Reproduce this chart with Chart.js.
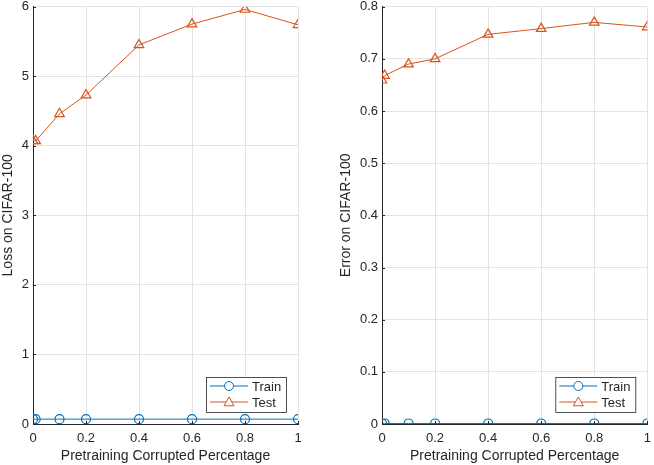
<!DOCTYPE html>
<html><head><meta charset="utf-8">
<script src="https://cdn.jsdelivr.net/npm/chart.js@4"></script>
<style>
html,body{margin:0;padding:0;background:#fff;}
#wrap{width:654px;height:465px;position:relative;}
.c{position:absolute;top:0;width:327px;height:465px;}
</style></head><body>
<div id="wrap">
<div class="c" style="left:0"><canvas id="c1"></canvas></div>
<div class="c" style="left:327px"><canvas id="c2"></canvas></div>
</div>
<script>
const corrupted = [0, 0.01, 0.1, 0.2, 0.4, 0.6, 0.8, 1];
const trainLoss = [0.07, 0.07, 0.07, 0.07, 0.07, 0.07, 0.07, 0.07];
const testLoss  = [4.07, 4.07, 4.46, 4.73, 5.45, 5.75, 5.96, 5.74];
const trainErr  = [0.001, 0.001, 0.001, 0.001, 0.001, 0.001, 0.001, 0.001];
const testErr   = [0.659, 0.668, 0.690, 0.700, 0.747, 0.758, 0.770, 0.761];
const xTitle = 'Pretraining Corrupted Percentage';
const yTitles = ['Loss on CIFAR-100', 'Error on CIFAR-100'];
const seriesNames = ['Train', 'Test'];

const BLUE = '#0072BD', ORANGE = '#D95319';
const FONT = "'Liberation Sans', Arial, sans-serif";
const TXT = '#262626';

const innerTicks = {
  id: 'innerTicks',
  afterDatasetsDraw(chart) {
    const ctx = chart.ctx, a = chart.chartArea;
    const xs = chart.scales.x, ys = chart.scales.y;
    ctx.save();
    ctx.strokeStyle = '#262626';
    ctx.lineWidth = 1;
    ctx.beginPath();
    ys.ticks.forEach(t => { const p = Math.round(ys.getPixelForValue(t.value)) + 0.5; ctx.moveTo(a.left, p); ctx.lineTo(a.left + 3, p); });
    xs.ticks.forEach(t => { const p = Math.round(xs.getPixelForValue(t.value)) + 0.5; ctx.moveTo(p, a.bottom); ctx.lineTo(p, a.bottom - 3); });
    ctx.stroke();
    ctx.restore();
  }
};

const legendPlugin = {
  id: 'inLegend',
  afterDraw(chart) {
    const ctx = chart.ctx, a = chart.chartArea;
    const w = 80, h = 35;
    const x0 = a.right - w - 12, y0 = a.bottom - h - 12;
    ctx.save();
    ctx.fillStyle = '#fff';
    ctx.fillRect(x0, y0, w, h);
    ctx.strokeStyle = '#262626';
    ctx.lineWidth = 0.8;
    ctx.strokeRect(x0 + 0.5, y0 + 0.5, w, h);
    chart.data.datasets.forEach((ds, i) => {
      const yy = y0 + 9 + i * 16;
      ctx.strokeStyle = ds.borderColor;
      ctx.lineWidth = 1;
      ctx.beginPath(); ctx.moveTo(x0 + 4, yy); ctx.lineTo(x0 + 42, yy); ctx.stroke();
      ctx.beginPath();
      if (ds.pointStyle === 'triangle') {
        const r = 5;
        ctx.moveTo(x0 + 23, yy - r); ctx.lineTo(x0 + 23 + r, yy + r * 0.75); ctx.lineTo(x0 + 23 - r, yy + r * 0.75); ctx.closePath();
      } else {
        ctx.arc(x0 + 23, yy, 4.5, 0, Math.PI * 2);
      }
      ctx.fillStyle = '#fff'; ctx.fill(); ctx.stroke();
      ctx.fillStyle = TXT;
      ctx.font = '13px ' + FONT;
      ctx.textBaseline = 'middle';
      ctx.fillText(ds.label, x0 + 46, yy + 1);
    });
    ctx.restore();
  }
};

function makeChart(id, train, test, yMax, yStep, yTitle, leftPad, yWidth, rightPad) {
  return new Chart(document.getElementById(id), {
    type: 'line',
    data: {
      datasets: [
        { label: seriesNames[0], data: corrupted.map((x, i) => ({x, y: train[i]})),
          borderColor: BLUE, backgroundColor: '#fff', borderWidth: 1,
          pointStyle: 'circle', pointRadius: 4.5, pointBorderWidth: 1.2, pointBorderColor: BLUE, pointBackgroundColor: 'rgba(255,255,255,0)' },
        { label: seriesNames[1], data: corrupted.map((x, i) => ({x, y: test[i]})),
          borderColor: ORANGE, backgroundColor: '#fff', borderWidth: 1,
          pointStyle: 'triangle', pointRadius: 5.5, pointBorderWidth: 1.2, pointBorderColor: ORANGE, pointBackgroundColor: 'rgba(255,255,255,0)' }
      ]
    },
    options: {
      responsive: true, maintainAspectRatio: false, animation: false,
      layout: { padding: { top: 6, right: rightPad, left: leftPad, bottom: 0 } },
      plugins: { legend: { display: false }, tooltip: { enabled: false } },
      scales: {
        x: {
          type: 'linear', min: 0, max: 1,
          ticks: { stepSize: 0.2, color: TXT, font: { family: FONT, size: 13 }, padding: 7, maxRotation: 0,
                   callback: v => Number(v.toFixed(1)).toString() },
          grid: { color: '#e3e3e3', drawTicks: false },
          border: { color: '#262626', width: 1 },
          title: { display: true, text: xTitle, color: TXT, font: { family: FONT, size: 14 }, padding: { top: 2, bottom: 0 } },
          afterFit: s => { s.height = 41; s.paddingLeft = 0; s.paddingRight = 0; }
        },
        y: {
          min: 0, max: yMax,
          ticks: { stepSize: yStep, color: TXT, font: { family: FONT, size: 13 }, padding: 4,
                   callback: v => Number(v.toFixed(1)).toString() },
          grid: { color: '#e3e3e3', drawTicks: false },
          border: { color: '#262626', width: 1 },
          title: { display: true, text: yTitle, color: TXT, font: { family: FONT, size: 14 }, padding: { top: 0, bottom: 2 } },
          afterFit: s => { s.width = yWidth; s.paddingTop = 0; s.paddingBottom = 0; }
        }
      }
    },
    plugins: [innerTicks, legendPlugin]
  });
}

makeChart('c1', trainLoss, testLoss, 6, 1, yTitles[0], 0, 33, 29);
makeChart('c2', trainErr, testErr, 0.8, 0.1, yTitles[1], 11, 44, 6);
</script>
</body></html>
